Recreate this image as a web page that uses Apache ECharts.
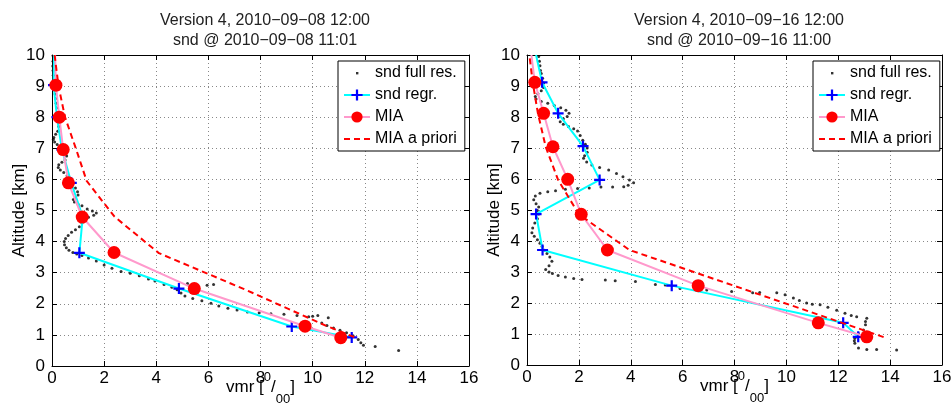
<!DOCTYPE html>
<html>
<head>
<meta charset="utf-8">
<script src="https://cdn.jsdelivr.net/npm/echarts@6/dist/echarts.min.js"></script>
<style>html,body{margin:0;padding:0;background:#fff}#c{width:952px;height:406px}</style>
</head>
<body>
<div id="c"></div>
<script>
// ---- Data: [vmr (per mille), altitude (km)] ----
var titlesLeft = ['Version 4, 2010\u221209\u221208 12:00', 'snd @ 2010\u221209\u221208 11:01'];
var titlesRight = ['Version 4, 2010\u221209\u221216 12:00', 'snd @ 2010\u221209\u221216 11:00'];
var xTicks = [0, 2, 4, 6, 8, 10, 12, 14, 16];
var yTicks = [0, 1, 2, 3, 4, 5, 6, 7, 8, 9, 10];
var seriesNames = ['snd full res.', 'snd regr.', 'MIA', 'MIA a priori'];

var leftFull = [[0.05,9.95],[0.04,9.8],[0.03,9.65],[0.04,9.5],[0.05,9.35],[0.06,9.2],[0.08,9.05],[0.1,8.9],[0.12,8.75],[0.14,8.6],[0.16,8.45],[0.18,8.3],[0.2,8.15],[0.22,8.0],[0.24,7.85],[0.26,7.7],[0.22,7.55],[0.14,7.45],[0.07,7.35],[0.05,7.28],[0.1,7.2],[0.2,7.12],[0.3,7.05],[0.42,6.95],[0.52,6.85],[0.56,6.75],[0.5,6.62],[0.38,6.55],[0.26,6.47],[0.24,6.38],[0.32,6.3],[0.45,6.22],[0.58,6.12],[0.68,6.0],[0.78,5.85],[0.9,5.72],[0.98,5.6],[1.0,5.5],[0.9,5.42],[0.82,5.35],[0.86,5.27],[1.0,5.2],[1.15,5.15],[1.35,5.05],[1.55,4.98],[1.7,4.92],[1.6,4.85],[1.4,4.78],[1.25,4.7],[1.15,4.6],[1.05,4.48],[0.9,4.38],[0.75,4.3],[0.62,4.2],[0.52,4.1],[0.47,4.0],[0.48,3.9],[0.55,3.8],[0.65,3.72],[0.8,3.65],[0.95,3.6],[1.15,3.55],[1.4,3.47],[1.7,3.38],[2.0,3.25],[2.3,3.14],[2.65,3.04],[3.0,2.98],[3.35,2.9],[3.7,2.8],[3.95,2.73],[4.3,2.62],[4.6,2.53],[4.8,2.45],[4.95,2.35],[5.1,2.25],[5.4,2.17],[5.75,2.1],[6.1,2.02],[6.4,1.93],[6.75,1.86],[7.1,1.8],[7.5,1.74],[7.95,1.71],[8.4,1.68],[8.9,1.66],[9.4,1.62],[9.85,1.58],[10.2,1.62],[10.35,1.38],[10.55,1.3],[10.8,1.22],[11.05,1.15],[11.3,1.07],[11.55,0.97],[11.75,0.85],[11.85,0.75],[11.95,0.67],[12.4,0.63],[13.3,0.5],[5.2,2.65],[5.95,2.6],[6.2,2.62],[10.0,1.6],[10.6,1.55]];
var leftRegr = [[11.5,0.92],[9.2,1.27],[4.87,2.49],[1.05,3.64],[1.18,4.8],[0.74,5.89],[0.38,6.96],[0.19,8.0],[0.06,9.03],[0.08,10]];
var leftMIA = [[11.08,0.91],[9.71,1.28],[5.46,2.49],[2.38,3.65],[1.16,4.79],[0.63,5.89],[0.43,6.96],[0.28,8.0],[0.15,9.03],[0.12,10]];
var leftPrior = [[11.6,0.93],[10.5,1.3],[7.35,2.48],[4.1,3.63],[2.4,4.8],[1.33,5.95],[0.93,6.96],[0.5,8.0],[0.25,9.0],[0.1,10]];

var rightFull = [[0.45,9.95],[0.48,9.8],[0.5,9.65],[0.52,9.5],[0.55,9.4],[0.6,9.25],[0.64,9.1],[0.64,8.95],[0.55,8.85],[0.42,8.75],[0.32,8.66],[0.35,8.58],[0.55,8.5],[0.8,8.44],[1.05,8.37],[1.3,8.3],[1.5,8.22],[1.62,8.12],[1.55,8.02],[1.4,7.94],[1.28,7.85],[1.4,7.77],[1.6,7.69],[1.8,7.62],[1.95,7.55],[2.05,7.4],[2.15,7.25],[2.25,7.12],[2.32,7.0],[2.32,6.86],[2.22,6.75],[2.18,6.67],[2.3,6.55],[2.5,6.45],[2.8,6.37],[3.15,6.29],[3.45,6.18],[3.7,6.07],[3.95,5.97],[4.11,5.88],[3.9,5.8],[3.73,5.75],[3.3,5.74],[2.85,5.74],[2.4,5.71],[1.95,5.69],[1.48,5.67],[1.1,5.62],[0.8,5.59],[0.5,5.54],[0.32,5.45],[0.26,5.33],[0.35,5.2],[0.45,5.1],[0.4,4.98],[0.45,4.87],[0.4,4.72],[0.3,4.58],[0.22,4.42],[0.19,4.27],[0.28,4.15],[0.4,4.04],[0.5,3.93],[0.58,3.82],[0.68,3.7],[0.77,3.6],[0.88,3.48],[0.96,3.35],[0.85,3.2],[0.72,3.08],[0.85,3.0],[0.98,2.95],[1.2,2.89],[1.48,2.84],[1.8,2.79],[2.12,2.76],[3.02,2.74],[3.4,2.72],[4.18,2.69],[4.95,2.6],[5.33,2.58],[5.9,2.47],[6.93,2.42],[7.89,2.37],[8.7,2.33],[8.97,2.34],[9.63,2.33],[9.95,2.27],[10.27,2.16],[10.5,2.08],[10.78,2.0],[11.0,1.96],[11.3,1.94],[11.6,1.86],[11.94,1.77],[12.26,1.67],[12.5,1.6],[12.71,1.56],[13.1,1.51],[13.05,1.4],[13.05,1.3],[12.97,1.13],[12.78,1.02],[12.64,0.86],[12.62,0.78],[12.64,0.7],[12.78,0.55],[13.1,0.5],[13.48,0.5],[14.25,0.48]];
var rightRegr = [[12.77,0.91],[12.19,1.36],[5.58,2.56],[0.6,3.71],[0.35,4.87],[2.8,5.97],[2.16,7.06],[1.2,8.12],[0.58,9.12],[0.35,10]];
var rightMIA = [[13.1,0.91],[11.23,1.36],[6.6,2.56],[3.1,3.71],[2.09,4.86],[1.57,5.99],[1.0,7.04],[0.64,8.12],[0.3,9.12],[0.17,10]];
var rightPrior = [[13.75,0.9],[12.15,1.36],[7.97,2.56],[3.95,3.71],[2.0,4.86],[1.2,5.97],[0.72,7.04],[0.42,8.12],[0.22,9.12],[0.09,10]];

// ---- Styling / layout ----
var FONT = '"Liberation Sans", Arial, Helvetica, sans-serif';
var crossPath = 'path://M4,0h2v4h4v2h-4v4h-2v-4h-4v-2h4z';
var dotIcon = 'path://M0 0M26 14M12 6h2.4v2.4h-2.4z';

function withTopClip(arr) {
  return arr.map(function (p) {
    return p[1] >= 10 ? { value: p, symbol: 'none' } : p;
  });
}

var grids = [
  { left: 52, top: 55, width: 417, height: 311 },
  { left: 527, top: 55, width: 415, height: 310 }
];

var xAxes = [], yAxes = [];
grids.forEach(function (g, i) {
  xAxes.push({
    type: 'value', gridIndex: i, min: xTicks[0], max: xTicks[xTicks.length - 1], interval: xTicks[1] - xTicks[0],
    position: 'bottom',
    axisLine: { show: true, onZero: false, lineStyle: { color: '#000', width: 1 } },
    axisTick: { show: true, inside: true, length: 5, lineStyle: { color: '#000' } },
    axisLabel: { color: '#000', fontSize: 17, fontFamily: FONT, margin: 4 },
    splitLine: { show: true, lineStyle: { color: '#888', type: [1, 3], width: 1 } },
    name: 'vmr [{sup|0}/{sub|00}]', nameLocation: 'middle', nameGap: 2, nameMoveOverlap: false,
    nameTextStyle: {
      color: '#000', fontSize: 17, fontFamily: FONT, verticalAlign: 'top',
      rich: {
        sup: { fontSize: 13, fontFamily: FONT, color: '#000', padding: [0, 0, 20, 0] },
        sub: { fontSize: 13, fontFamily: FONT, color: '#000', padding: [25, 0, 0, 0] }
      }
    }
  });
  xAxes.push({
    type: 'value', gridIndex: i, min: xTicks[0], max: xTicks[xTicks.length - 1], interval: xTicks[1] - xTicks[0],
    position: 'top',
    axisLine: { show: true, onZero: false, lineStyle: { color: '#000', width: 1 } },
    axisTick: { show: true, inside: true, length: 5, lineStyle: { color: '#000' } },
    axisLabel: { show: false }, splitLine: { show: false }
  });
  yAxes.push({
    type: 'value', gridIndex: i, min: yTicks[0], max: yTicks[yTicks.length - 1], interval: yTicks[1] - yTicks[0],
    position: 'left',
    axisLine: { show: true, onZero: false, lineStyle: { color: '#000', width: 1 } },
    axisTick: { show: true, inside: true, length: 5, lineStyle: { color: '#000' } },
    axisLabel: { color: '#000', fontSize: 17, fontFamily: FONT, margin: 7 },
    splitLine: { show: true, lineStyle: { color: '#888', type: [1, 3], width: 1 } },
    name: 'Altitude [km]', nameLocation: 'middle', nameGap: 24, nameRotate: 90, nameMoveOverlap: false,
    nameTextStyle: { color: '#000', fontSize: 17, fontFamily: FONT }
  });
  yAxes.push({
    type: 'value', gridIndex: i, min: yTicks[0], max: yTicks[yTicks.length - 1], interval: yTicks[1] - yTicks[0],
    position: 'right',
    axisLine: { show: true, onZero: false, lineStyle: { color: '#000', width: 1 } },
    axisTick: { show: true, inside: true, length: 5, lineStyle: { color: '#000' } },
    axisLabel: { show: false }, splitLine: { show: false }
  });
});

function panelSeries(idx, full, regr, mia, prior) {
  var xi = idx * 2, yi = idx * 2;
  return [
    { name: seriesNames[0], type: 'scatter', xAxisIndex: xi, yAxisIndex: yi, data: full,
      symbol: 'circle', symbolSize: 3, itemStyle: { color: '#000' }, z: 2 },
    { name: seriesNames[1], type: 'line', xAxisIndex: xi, yAxisIndex: yi, data: withTopClip(regr),
      symbol: crossPath, symbolSize: 11, showSymbol: true,
      lineStyle: { color: '#00ffff', width: 2 }, itemStyle: { color: '#0000ff' }, z: 3 },
    { name: seriesNames[2], type: 'line', xAxisIndex: xi, yAxisIndex: yi, data: withTopClip(mia),
      symbol: 'circle', symbolSize: 13, showSymbol: true,
      lineStyle: { color: '#ff99cc', width: 2 }, itemStyle: { color: '#ff0000' }, z: 4 },
    { name: seriesNames[3], type: 'line', xAxisIndex: xi, yAxisIndex: yi, data: prior,
      symbol: 'none', lineStyle: { color: '#ff0000', width: 2, type: [6, 4] },
      itemStyle: { color: '#ff0000', opacity: 0 }, z: 5 }
  ];
}

function legendAt(left) {
  return {
    orient: 'vertical', left: left, top: 61,
    itemWidth: 26, itemHeight: 14, itemGap: 6, padding: [4, 8, 4, 5],
    borderColor: '#000', borderWidth: 1, backgroundColor: '#fff', borderRadius: 0,
    textStyle: { color: '#000', fontSize: 16, fontFamily: FONT },
    selectedMode: false,
    data: [{ name: seriesNames[0], icon: dotIcon }, seriesNames[1], seriesNames[2], seriesNames[3]]
  };
}

var chart = echarts.init(document.getElementById('c'), null, { renderer: 'canvas' });
chart.setOption({
  animation: false,
  backgroundColor: '#fff',
  title: [
    { text: titlesLeft.join('\n'), left: 260, top: 6, textAlign: 'center',
      textStyle: { fontSize: 16, fontWeight: 'normal', color: '#222', fontFamily: FONT, lineHeight: 20 } },
    { text: titlesRight.join('\n'), left: 734, top: 6, textAlign: 'center',
      textStyle: { fontSize: 16, fontWeight: 'normal', color: '#222', fontFamily: FONT, lineHeight: 20 } }
  ],
  legend: [legendAt(338), legendAt(813)],
  grid: grids.map(function (g) { return Object.assign({ show: false, containLabel: false, outerBoundsMode: 'none' }, g); }),
  xAxis: xAxes,
  yAxis: yAxes,
  series: panelSeries(0, leftFull, leftRegr, leftMIA, leftPrior)
    .concat(panelSeries(1, rightFull, rightRegr, rightMIA, rightPrior))
});
</script>
</body>
</html>
